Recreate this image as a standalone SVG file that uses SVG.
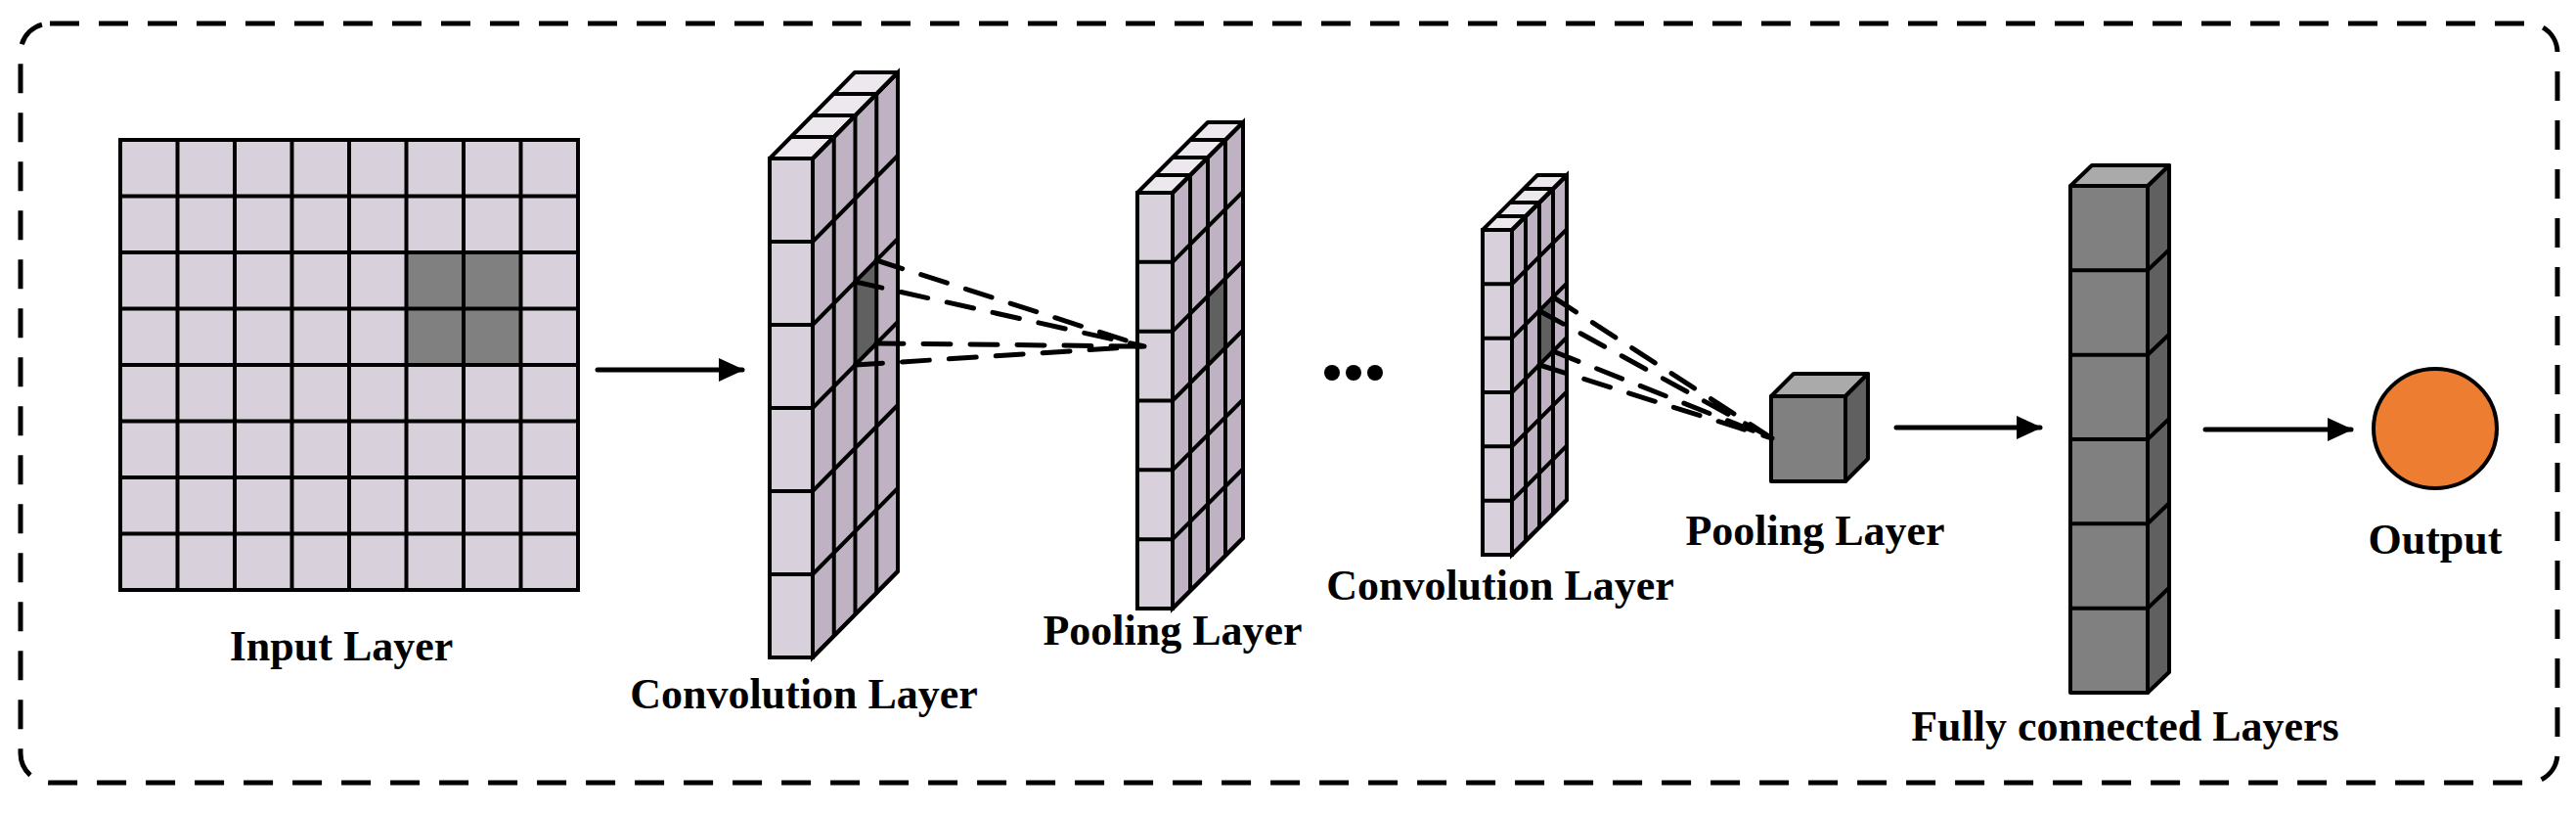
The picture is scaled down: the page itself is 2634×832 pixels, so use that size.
<svg xmlns="http://www.w3.org/2000/svg" width="2634" height="832" viewBox="0 0 2634 832">
<style>
.g{stroke:#000;stroke-width:4;stroke-linejoin:round;stroke-linecap:round}
.lf{fill:#d8d0da}.ls{fill:#bfb3c3}.lt{fill:#ece8ee}
.df{fill:#808080}.ds{fill:#606060}.dt{fill:#aaaaaa}
.ln{fill:none;stroke:#000;stroke-width:4}
.dash{fill:none;stroke:#000;stroke-width:5;stroke-dasharray:28 20;stroke-linecap:round}
.arr{fill:none;stroke:#000;stroke-width:5;stroke-linecap:round}
text{font-family:"Liberation Serif","Times New Roman",serif;font-weight:bold;font-size:44px;text-anchor:middle;fill:#000}
</style>
<defs>
<marker id="ah" markerUnits="userSpaceOnUse" markerWidth="26" markerHeight="24" refX="24" refY="12" orient="auto"><path d="M0,0 L26,12 L0,24 Z" fill="#000"/></marker>
</defs>
<rect x="21" y="24" width="2594" height="776" rx="30" fill="none" stroke="#000" stroke-width="5" stroke-dasharray="30 20"/>

<g id="input">
<rect class="g lf" x="123" y="143" width="468" height="460"/>
<rect x="415.5" y="258" width="117" height="115" fill="#808080"/>
<path class="ln" d="M181.5,143V603M240,143V603M298.5,143V603M357,143V603M415.5,143V603M474,143V603M532.5,143V603M123,200.5H591M123,258H591M123,315.5H591M123,373H591M123,430.5H591M123,488H591M123,545.5H591"/>
<rect x="123" y="143" width="468" height="460" class="ln"/>
<text x="349" y="675">Input Layer</text>
</g>

<g id="conv1">
<rect class="g lf" x="787" y="162" width="44" height="510"/>
<path class="g ls" d="M831,162L918,74L918,584L831,672Z"/>
<path class="g lt" d="M787,162L831,162L918,74L874,74Z"/>
<path d="M874.5,288L896.25,266L896.25,351L874.5,373Z" fill="#606060"/>
<path class="ln" d="M787,247H831M787,332H831M787,417H831M787,502H831M787,587H831M852.75,140V650M874.5,118V628M896.25,96V606M831,247L918,159M831,332L918,244M831,417L918,329M831,502L918,414M831,587L918,499M808.75,140H852.75M830.5,118H874.5M852.25,96H896.25"/>
<path class="ln" d="M831,162L918,74L918,584L831,672ZM787,162H831V672H787Z"/>
<text x="822" y="724">Convolution Layer</text>
</g>

<g id="pool1">
<rect class="g lf" x="1163" y="197" width="36" height="425"/>
<path class="g ls" d="M1199,197L1271,125L1271,550L1199,622Z"/>
<path class="g lt" d="M1163,197L1199,197L1271,125L1235,125Z"/>
<path d="M1235,302.7L1253,284.7L1253,355.5L1235,373.5Z" fill="#606060"/>
<path class="ln" d="M1163,267.8H1199M1163,338.7H1199M1163,409.5H1199M1163,480.3H1199M1163,551.2H1199M1217,179V604M1235,161V586M1253,143V568M1199,267.8L1271,195.8M1199,338.7L1271,266.7M1199,409.5L1271,337.5M1199,480.3L1271,408.3M1199,551.2L1271,479.2M1181,179H1217M1199,161H1235M1217,143H1253"/>
<path class="ln" d="M1199,197L1271,125L1271,550L1199,622ZM1163,197H1199V622H1163Z"/>
<text x="1199" y="659">Pooling Layer</text>
</g>

<g id="dots">
<circle cx="1362" cy="381" r="8"/><circle cx="1384" cy="381" r="8"/><circle cx="1406" cy="381" r="8"/>
</g>

<g id="conv2">
<rect class="g lf" x="1516" y="235" width="30" height="332"/>
<path class="g ls" d="M1546,235L1602,179L1602,511L1546,567Z"/>
<path class="g lt" d="M1516,235L1546,235L1602,179L1572,179Z"/>
<path d="M1574,317.7L1588,303.7L1588,359L1574,373Z" fill="#606060"/>
<path class="ln" d="M1516,290.3H1546M1516,345.7H1546M1516,401H1546M1516,456.3H1546M1516,511.7H1546M1560,221V553M1574,207V539M1588,193V525M1546,290.3L1602,234.3M1546,345.7L1602,289.7M1546,401L1602,345M1546,456.3L1602,400.3M1546,511.7L1602,455.7M1530,221H1560M1544,207H1574M1558,193H1588"/>
<path class="ln" d="M1546,235L1602,179L1602,511L1546,567ZM1516,235H1546V567H1516Z"/>
<text x="1534" y="613">Convolution Layer</text>
</g>

<g id="pool2">
<rect class="g df" x="1811" y="405" width="76" height="87"/>
<path class="g dt" d="M1811,405L1887,405L1910,382L1834,382Z"/>
<path class="g ds" d="M1887,405L1910,382L1910,469L1887,492Z"/>
<text x="1856" y="557">Pooling Layer</text>
</g>

<g id="fc">
<rect class="g df" x="2117" y="190" width="79" height="518"/>
<path class="g ds" d="M2196,190L2218,169L2218,687L2196,708Z"/>
<path class="g dt" d="M2117,190L2196,190L2218,169L2139,169Z"/>
<path class="ln" d="M2117,276.3H2196L2218,255.3M2117,362.7H2196L2218,341.7M2117,449H2196L2218,428M2117,535.3H2196L2218,514.3M2117,621.7H2196L2218,600.7"/>
<text x="2173" y="757">Fully connected Layers</text>
</g>

<g id="output">
<ellipse cx="2490" cy="438" rx="63" ry="61" fill="#ED7D31" stroke="#000" stroke-width="4"/>
<text x="2490" y="566">Output</text>
</g>

<g id="connectors">
<path class="arr" d="M611,378H759" marker-end="url(#ah)"/>
<path class="arr" d="M1939,437H2086" marker-end="url(#ah)"/>
<path class="arr" d="M2255,439H2404" marker-end="url(#ah)"/>
<path class="dash" d="M896,266L1170,354M874.5,288L1170,354M896,351L1170,354M874.5,373L1170,354"/>
<path class="dash" d="M1588,303.7L1812,448M1574,317.7L1812,448M1588,359L1812,448M1574,373L1812,448"/>
</g>
</svg>
